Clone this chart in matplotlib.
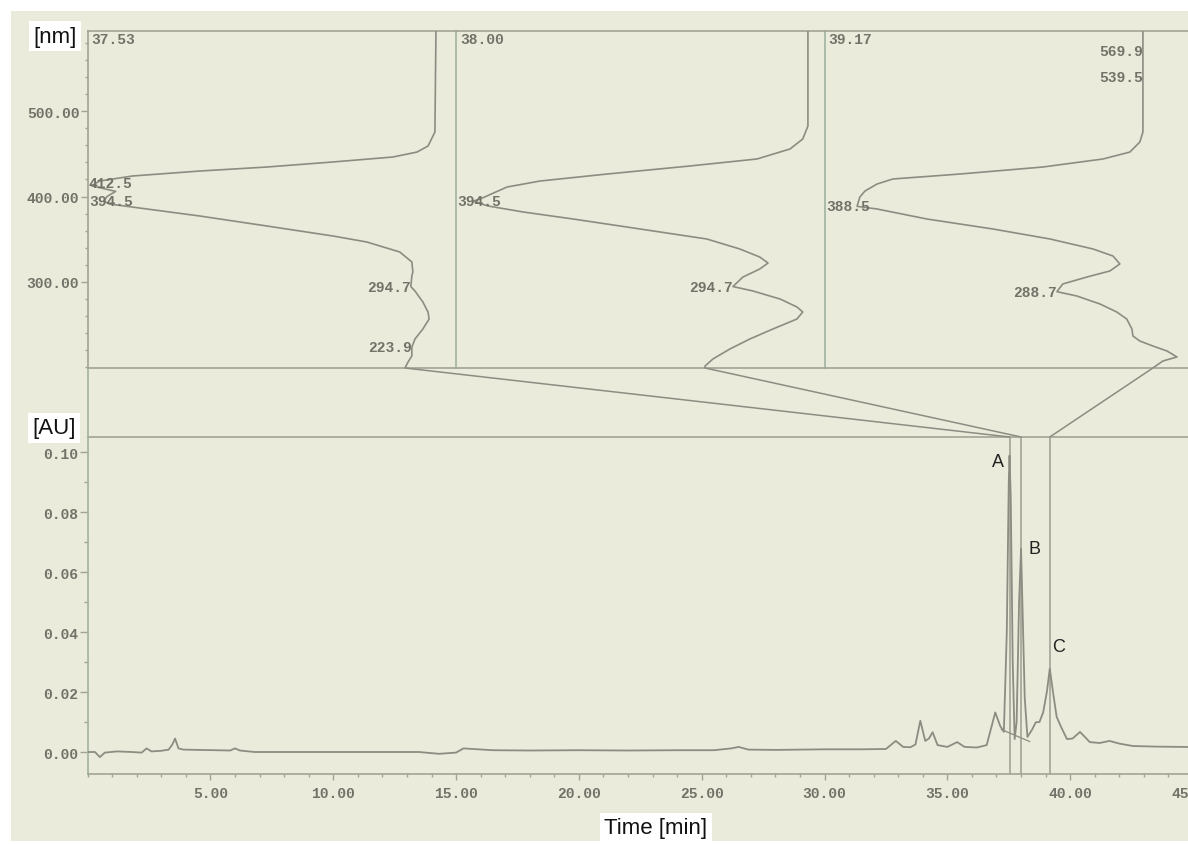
import matplotlib
matplotlib.use("Agg")
import matplotlib.pyplot as plt
from matplotlib.patches import Rectangle, ConnectionPatch
from matplotlib.ticker import MultipleLocator, FixedLocator, FormatStrFormatter

# ---------------- data ----------------
# Chromatogram (time in min, absorbance in AU)
chrom_time = [0.0, 0.3, 0.5, 0.7, 1.2, 1.8, 2.2, 2.4, 2.6, 3.0, 3.3, 3.45, 3.56, 3.7,
              3.9, 4.5, 5.2, 5.8, 6.0, 6.2, 6.8, 8.0, 10.0, 12.0, 13.5, 14.3, 15.0,
              15.3, 16.5, 18.0, 20.0, 22.0, 24.0, 25.5, 26.2, 26.5, 26.9, 28.0, 30.0,
              31.5, 32.5, 32.9, 33.2, 33.5, 33.7, 33.9, 34.1, 34.25, 34.4, 34.6, 35.0,
              35.4, 35.7, 36.2, 36.6, 36.95, 37.15, 37.3, 37.42, 37.5, 37.53, 37.58,
              37.66, 37.74, 37.82, 37.92, 38.0, 38.06, 38.15, 38.26, 38.45, 38.6,
              38.75, 38.9, 39.05, 39.17, 39.3, 39.45, 39.65, 39.87, 40.1, 40.4, 40.8,
              41.2, 41.6, 42.0, 42.55, 43.5, 44.6, 45.0]
chrom_au = [0.0, 0.0, -0.0017, -0.0002, 0.0002, 0.0, -0.0002, 0.0012, 0.0002, 0.0004,
            0.0008, 0.0025, 0.0045, 0.0012, 0.0008, 0.0007, 0.0006, 0.0005, 0.0012,
            0.0005, 0.0, 0.0, 0.0, 0.0, 0.0, -0.0006, -0.0002, 0.0012, 0.0006, 0.0005,
            0.0006, 0.0005, 0.0006, 0.0006, 0.0012, 0.0017, 0.0008, 0.0007, 0.0009,
            0.0009, 0.0010, 0.0037, 0.0017, 0.0016, 0.0025, 0.0104, 0.0037, 0.0045,
            0.0066, 0.0023, 0.0017, 0.0033, 0.0017, 0.0015, 0.0023, 0.0132, 0.0087,
            0.0067, 0.040, 0.090, 0.0988, 0.085, 0.030, 0.0043, 0.010, 0.050, 0.0677,
            0.048, 0.018, 0.005, 0.0075, 0.0099, 0.0100, 0.0132, 0.020, 0.0278, 0.020,
            0.0117, 0.0080, 0.0043, 0.0045, 0.0067, 0.0033, 0.0030, 0.0037, 0.0028,
            0.0020, 0.0018, 0.0017, 0.0016]

# Peaks with recorded spectra
peak_names = ["A", "B", "C"]
peak_times = [37.53, 38.00, 39.17]
peak_heights = [0.0988, 0.0677, 0.0278]

# Integration baseline under peaks A/B
integ_time = [37.2, 38.35]
integ_au = [0.0075, 0.0035]

# UV spectra (wavelength nm, relative absorbance)
spec1_nm = [593.6, 475.4, 459.1, 452.0, 446.2, 440.4, 434.5, 429.8, 424.0, 418.1,
            412.5, 406.0, 400.0, 394.5, 391.2, 377.2, 365.5, 353.8, 346.8, 335.1,
            323.4, 311.7, 307.0, 294.7, 289.5, 276.6, 264.9, 256.7, 245.0, 233.3,
            223.9, 213.5, 206.4, 199.4]
spec1_abs = [0.0, 0.003, 0.023, 0.055, 0.125, 0.299, 0.491, 0.686, 0.881, 0.977,
             1.0, 0.93, 0.955, 0.965, 0.948, 0.686, 0.491, 0.299, 0.201, 0.105,
             0.070, 0.067, 0.070, 0.073, 0.061, 0.038, 0.023, 0.020, 0.038, 0.061,
             0.070, 0.070, 0.081, 0.090]

spec2_nm = [593.6, 482.5, 467.3, 455.6, 443.9, 435.7, 426.3, 418.1, 411.1, 397.1,
            394.5, 388.9, 381.9, 373.7, 362.0, 350.3, 338.6, 329.2, 322.2, 315.2,
            305.8, 294.7, 289.5, 280.1, 270.8, 264.9, 256.7, 245.0, 233.3, 221.6,
            210.0, 201.8, 199.4]
spec2_abs = [0.0, 0.0, 0.015, 0.052, 0.148, 0.343, 0.584, 0.779, 0.875, 0.953,
             0.974, 0.93, 0.828, 0.683, 0.488, 0.294, 0.198, 0.140, 0.116, 0.140,
             0.189, 0.218, 0.160, 0.081, 0.032, 0.015, 0.032, 0.102, 0.169, 0.227,
             0.276, 0.299, 0.299]

spec3_nm = [593.6, 569.9, 539.5, 475.4, 463.7, 452.0, 443.9, 434.5, 426.3, 420.5,
            414.6, 406.4, 399.4, 388.5, 385.4, 373.7, 362.0, 350.3, 338.6, 330.4,
            321.1, 312.9, 305.8, 297.7, 288.7, 283.6, 274.3, 264.9, 256.7, 245.0,
            236.8, 231.0, 225.1, 219.3, 212.3, 207.6, 199.4]
spec3_abs = [0.0, 0.0, 0.0, 0.0, 0.009, 0.038, 0.116, 0.291, 0.532, 0.727,
             0.773, 0.808, 0.823, 0.831, 0.773, 0.628, 0.436, 0.270, 0.145, 0.087,
             0.067, 0.096, 0.163, 0.233, 0.250, 0.192, 0.125, 0.076, 0.047, 0.032,
             0.029, 0.009, -0.029, -0.070, -0.099, -0.058, -0.029]

spec_titles = ["37.53", "38.00", "39.17"]
spec_max_labels = [[412.5, 394.5], [394.5], [388.5]]
spec_point_labels = [[294.7, 223.9], [294.7], [569.9, 539.5, 288.7]]

# ---------------- style ----------------
W, H = 1188, 845
BG = "#ebebdb"
LINE = "#8c8c82"
FRAME = "#a2a396"
DIVIDER = "#9fb3a2"
TXT = "#727269"
mono = dict(family=["Liberation Mono", "DejaVu Sans Mono"], weight="bold",
            size=10.5, color=TXT)
sans = ["Liberation Sans", "DejaVu Sans"]

fig = plt.figure(figsize=(W / 100, H / 100), dpi=100, facecolor="white")
fig.patches.append(Rectangle((11 / W, 3 / H), 1, 1 - 15 / H, transform=fig.transFigure,
                             facecolor=BG, edgecolor="none", zorder=-10))


def fx(px):
    return px / W


def fy(px):
    return 1 - px / H


x0, x1 = 87.6, 1193.0
panel_w = (x1 - x0) / 3
spec_top, spec_bot = 32.0, 369.0
chr_top, chr_bot = 438.0, 775.0

# ---------------- chromatogram ----------------
axc = fig.add_axes([fx(x0), fy(chr_bot), fx(x1 - x0), (chr_bot - chr_top) / H])
axc.set_facecolor("none")
axc.plot(chrom_time, chrom_au, color=LINE, lw=1.3, zorder=3)
axc.plot(integ_time, integ_au, color=LINE, lw=0.9, zorder=3)
for t in peak_times:
    axc.axvline(t, color=FRAME, lw=1.2, zorder=2)
axc.set_xlim(0, 45)
axc.set_ylim(-0.00733, 0.105)
axc.xaxis.set_major_locator(FixedLocator([5, 10, 15, 20, 25, 30, 35, 40, 45]))
axc.xaxis.set_minor_locator(MultipleLocator(1))
axc.xaxis.set_major_formatter(FormatStrFormatter("%.2f"))
axc.yaxis.set_major_locator(FixedLocator([0.0, 0.02, 0.04, 0.06, 0.08, 0.10]))
axc.yaxis.set_minor_locator(MultipleLocator(0.01))
axc.yaxis.set_major_formatter(FormatStrFormatter("%.2f"))
axc.spines["right"].set_visible(False)
for s in ("top", "bottom"):
    axc.spines[s].set_color(FRAME)
    axc.spines[s].set_linewidth(1.2)
axc.spines["left"].set_color(DIVIDER)
axc.spines["left"].set_linewidth(1.2)
axc.tick_params(axis="x", which="major", length=4, width=1, color=FRAME, pad=5)
axc.tick_params(axis="x", which="minor", length=2.5, width=1, color=FRAME)
axc.tick_params(axis="y", which="major", length=6, width=1, color=FRAME, pad=1)
axc.tick_params(axis="y", which="minor", length=3, width=1, color=FRAME)
for lab in axc.get_xticklabels() + axc.get_yticklabels():
    lab.set_fontfamily(mono["family"])
    lab.set_fontweight("bold")
    lab.set_fontsize(10.5)
    lab.set_color(TXT)

label_offsets = [(-8, -4), (10, 0), (6, 16)]
for name, t, h, off in zip(peak_names, peak_times, peak_heights, label_offsets):
    axc.annotate(name, xy=(t, h), xytext=off, textcoords="offset points",
                 ha="center", va="center", fontsize=13, family=sans, color="#222222")

# ---------------- bridge between panels ----------------
axb = fig.add_axes([fx(x0), fy(chr_top), fx(x1 - x0), (chr_top - spec_bot) / H])
axb.set_facecolor("none")
for s in ("top", "bottom", "right"):
    axb.spines[s].set_visible(False)
axb.spines["left"].set_color(DIVIDER)
axb.spines["left"].set_linewidth(1.2)
axb.set_xticks([])
axb.set_yticks([])

# ---------------- spectra ----------------
spec_nm = [spec1_nm, spec2_nm, spec3_nm]
spec_abs = [spec1_abs, spec2_abs, spec3_abs]
panel_xlims = [(1.0116, -0.0584), (1.0230, -0.0483), (0.9256, -0.1456)]
spec_axes = []
for i in range(3):
    left = x0 + i * panel_w
    ax = fig.add_axes([fx(left), fy(spec_bot), fx(panel_w), (spec_bot - spec_top) / H])
    ax.set_facecolor("none")
    ax.plot(spec_abs[i], spec_nm[i], color=LINE, lw=1.2, zorder=3)
    ax.set_xlim(*panel_xlims[i])
    ax.set_ylim(199.4, 593.6)
    ax.spines["right"].set_visible(False)
    for s in ("top", "bottom"):
        ax.spines[s].set_color(FRAME)
        ax.spines[s].set_linewidth(1.2)
    ax.spines["left"].set_color(DIVIDER if i else FRAME)
    ax.spines["left"].set_linewidth(1.2)
    ax.set_xticks([])
    if i == 0:
        ax.yaxis.set_major_locator(FixedLocator([300, 400, 500]))
        ax.yaxis.set_minor_locator(MultipleLocator(20))
        ax.yaxis.set_major_formatter(FormatStrFormatter("%.2f"))
        ax.tick_params(axis="y", which="major", length=5, width=1, color=FRAME, pad=1)
        ax.tick_params(axis="y", which="minor", length=2.5, width=1, color=FRAME)
        for lab in ax.get_yticklabels():
            lab.set_fontfamily(mono["family"])
            lab.set_fontweight("bold")
            lab.set_fontsize(10.5)
            lab.set_color(TXT)
    else:
        ax.set_yticks([])

    ax.annotate(spec_titles[i], xy=(0, 1), xycoords="axes fraction", xytext=(3, -1),
                textcoords="offset points", ha="left", va="top", **mono)
    for k, wl in enumerate(spec_max_labels[i]):
        dy = 2 if (i == 0 and k == 0) else 0
        ax.annotate(f"{wl:.1f}", xy=(0, wl), xycoords=("axes fraction", "data"),
                    xytext=(1, dy), textcoords="offset points",
                    ha="left", va="center", **mono)
    for wl in spec_point_labels[i]:
        a = spec_abs[i][spec_nm[i].index(wl)]
        ax.annotate(f"{wl:.1f}", xy=(a, wl), xytext=(0, 0), textcoords="offset points",
                    ha="right", va="center", **mono)
    spec_axes.append(ax)

# lines linking each spectrum to its retention time
for i, t in enumerate(peak_times):
    con = ConnectionPatch(xyA=(spec_abs[i][-1], spec_nm[i][-1]), coordsA=spec_axes[i].transData,
                          xyB=(t, 0.105), coordsB=axc.transData,
                          color=LINE, lw=1.1)
    fig.add_artist(con)

# ---------------- axis titles ----------------
box = dict(boxstyle="square,pad=0.2", facecolor="white", edgecolor="none")
fig.text(fx(55), fy(37), "[nm]", family=sans, fontsize=16, ha="center", va="center",
         color="#111111", bbox=box)
fig.text(fx(54), fy(429), "[AU]", family=sans, fontsize=16, ha="center", va="center",
         color="#111111", bbox=box)
fig.text(fx(656), fy(829), "Time [min]", family=sans, fontsize=16, ha="center",
         va="center", color="#111111", bbox=box)

fig.savefig("out.png", dpi=100, facecolor="white")
